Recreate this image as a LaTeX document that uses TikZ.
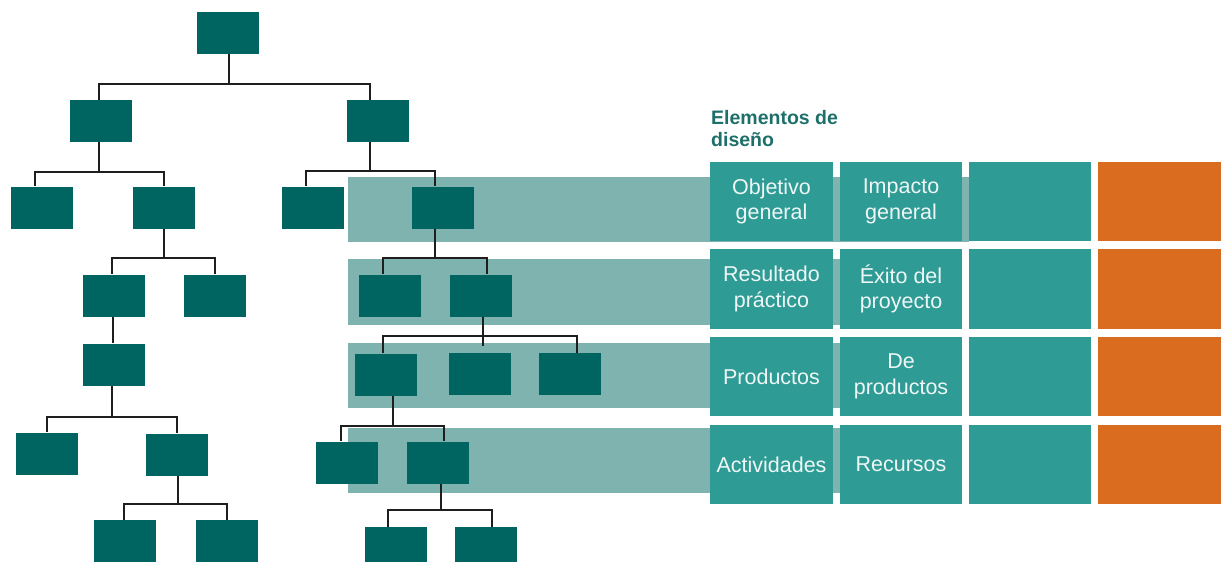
\documentclass[tikz,border=0pt]{standalone}
\usepackage{fontspec}
\setmainfont{Liberation Sans}
\definecolor{darkteal}{HTML}{006561}
\definecolor{bandteal}{HTML}{7FB3B0}
\definecolor{cellteal}{HTML}{2E9B95}
\definecolor{orangec}{HTML}{D96C1F}
\definecolor{titleteal}{HTML}{1D6F6A}
\definecolor{linegray}{HTML}{1E1E1E}
\definecolor{celltext}{HTML}{EEF7F6}
\newcommand\treeconn[5]{\draw[conn] (#1.south -| #2,0) -- (#2,#3) -| (#5,0 |- #4.north);}
\begin{document}
\begin{tikzpicture}[x=1pt,y=-1pt,
  darkbox/.style={fill=darkteal, draw=none, minimum width=62pt, minimum height=42pt, inner sep=0pt},
  conn/.style={draw=linegray, line width=2.2pt},
  band/.style={fill=bandteal, draw=none, inner sep=0pt, minimum height=65pt},
  cell/.style={fill=cellteal, draw=none, minimum width=122pt, minimum height=79pt, inner sep=0pt,
    text=celltext, align=center, font=\fontsize{21.5}{25.5}\selectfont},
  ocell/.style={fill=orangec, draw=none, minimum width=127pt, minimum height=79pt, inner sep=0pt}]
\useasboundingbox (0,0) rectangle (1221,562);
\clip (0,0) rectangle (1221,562);

% light bands
\node[band, minimum width=621pt] (band1) at (658.5,209.5) {};
\node[band, minimum width=493pt, minimum height=66pt] (band2) at (594.5,292) {};
\node[band, minimum width=493pt] (band3) at (594.5,375.5) {};
\node[band, minimum width=493pt] (band4) at (594.5,460.5) {};

% left tree
\node[darkbox] (r) at (228,33) {};
\node[darkbox] (a) at (100.5,121) {};
\node[darkbox] (b) at (377.5,121) {};
\node[darkbox] (a1) at (41.5,207.5) {};
\node[darkbox] (a2) at (163.5,207.5) {};
\node[darkbox] (b1) at (312.5,207.5) {};
\node[darkbox] (b2) at (442.5,207.5) {};
\node[darkbox] (a21) at (114,295.5) {};
\node[darkbox] (a22) at (215,295.5) {};
\node[darkbox] (a211) at (114,364.5) {};
\node[darkbox] (a2111) at (47,453.5) {};
\node[darkbox] (a2112) at (176.5,454.5) {};
\node[darkbox] (a21121) at (124.5,541) {};
\node[darkbox] (a21122) at (227,541) {};
% right subtree
\node[darkbox] (b21) at (390,295.5) {};
\node[darkbox] (b22) at (480.5,295.5) {};
\node[darkbox] (b221) at (385.5,374.5) {};
\node[darkbox] (b222) at (479.5,374) {};
\node[darkbox] (b223) at (570,374) {};
\node[darkbox] (b2211) at (347,462.5) {};
\node[darkbox] (b2212) at (437.5,462.5) {};
\node[darkbox] (b22121) at (395.5,548) {};
\node[darkbox] (b22122) at (485.5,548) {};

% connectors
\treeconn{r}{228.7}{84}{a}{99.3}
\treeconn{r}{228.7}{84}{b}{370}
\treeconn{a}{99.3}{172}{a1}{35}
\treeconn{a}{99.3}{172}{a2}{164}
\treeconn{b}{370}{171}{b1}{306}
\treeconn{b}{370}{171}{b2}{435}
\treeconn{a2}{164}{258.3}{a21}{112.3}
\treeconn{a2}{164}{258.3}{a22}{215}
\treeconn{b2}{435}{258.3}{b21}{382.7}
\treeconn{b2}{435}{258.3}{b22}{487.3}
\treeconn{b22}{483.3}{336}{b221}{382.7}
\treeconn{b22}{483.3}{336}{b223}{576.7}
\coordinate (stub) at (483.3,346);
\draw[conn] (b22.south -| stub) -- (stub);
\treeconn{a21}{113.3}{330}{a211}{113.3}
\treeconn{a211}{112.3}{416.7}{a2111}{47.3}
\treeconn{a211}{112.3}{416.7}{a2112}{176.7}
\treeconn{a2112}{177.7}{504}{a21121}{124}
\treeconn{a2112}{177.7}{504}{a21122}{226.7}
\treeconn{b221}{392.7}{425.7}{b2211}{340.7}
\treeconn{b221}{392.7}{425.7}{b2212}{444}
\treeconn{b2212}{441}{510}{b22121}{388.3}
\treeconn{b2212}{441}{510}{b22122}{492.3}

% title
\node[anchor=north west, inner sep=0pt, align=left, text=titleteal,
  font=\bfseries\fontsize{19.5}{22}\selectfont] (title) at (711,110) {Elementos de\\diseño};

% table
\node[cell, minimum width=123pt] (c11) at (771.5,201.5) {Objetivo\\general};
\node[cell] (c12) at (901,201.5) {Impacto\\general};
\node[cell] (c13) at (1030,201.5) {};
\node[ocell] (c14) at (1161.5,201.5) {};
\node[cell, minimum width=123pt, minimum height=80pt] (c21) at (771.5,289) {Resultado\\práctico};
\node[cell, minimum height=80pt] (c22) at (901,289) {Éxito del\\proyecto};
\node[cell, minimum height=80pt] (c23) at (1030,289) {};
\node[ocell, minimum height=80pt] (c24) at (1161.5,289) {};
\node[cell, minimum width=123pt] (c31) at (771.5,376.5) {Productos};
\node[cell] (c32) at (901,376.5) {De\\productos};
\node[cell] (c33) at (1030,376.5) {};
\node[ocell] (c34) at (1161.5,376.5) {};
\node[cell, minimum width=123pt] (c41) at (771.5,464.5) {Actividades};
\node[cell] (c42) at (901,464.5) {Recursos};
\node[cell] (c43) at (1030,464.5) {};
\node[ocell] (c44) at (1161.5,464.5) {};
\end{tikzpicture}
\end{document}
